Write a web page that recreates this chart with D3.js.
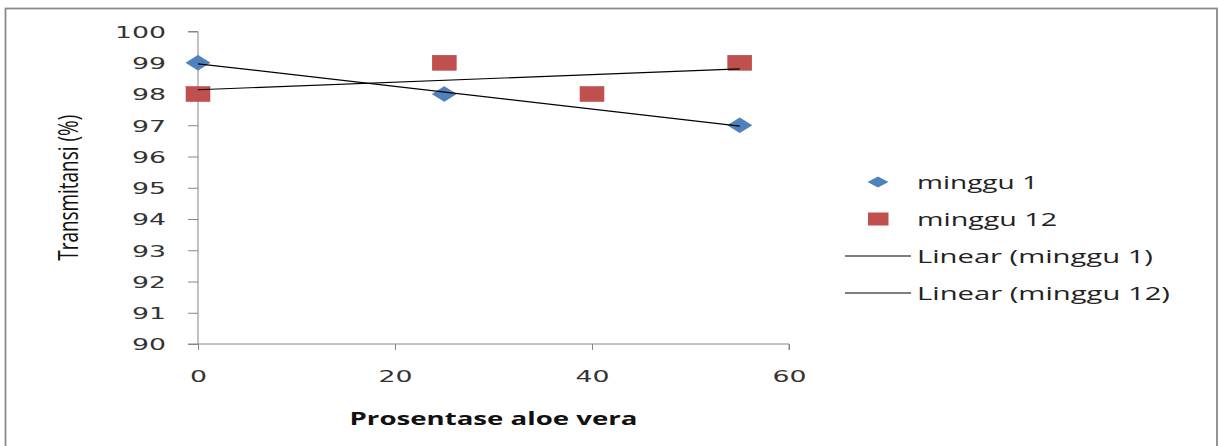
<!DOCTYPE html>
<html>
<head>
<meta charset="utf-8">
<script src="https://cdn.jsdelivr.net/npm/d3@7"></script>
<style>
  html, body { margin: 0; padding: 0; background: #fff; }
  svg { display: block; }
</style>
</head>
<body>
<svg id="chart" width="1220" height="446"></svg>
<script>
// ---- data ----
const xMinggu1 = [0, 25, 55];
const yMinggu1 = [99, 98, 97];
const xMinggu12 = [0, 25, 40, 55];
const yMinggu12 = [98, 99, 98, 99];
const yTickValues = [90, 91, 92, 93, 94, 95, 96, 97, 98, 99, 100];
const xTickValues = [0, 20, 40, 60];
const legendLabels = ["minggu 1", "minggu 12", "Linear (minggu 1)", "Linear (minggu 12)"];
const xTitle = "Prosentase aloe vera";
const yTitle = "Transmitansi (%)";

// ---- layout ----
const SX = 1.62; // horizontal stretch of the reference image
const svg = d3.select("#chart");
const x = d3.scaleLinear().domain([0, 60]).range([198, 789]);
const y = d3.scaleLinear().domain([90, 100]).range([344, 31.5]);
const blue = "#4F81BD", red = "#C0504D", axisCol = "#868686";

// frame
svg.append("rect").attr("x", 5.5).attr("y", 8.5).attr("width", 1211.5).attr("height", 460)
  .attr("fill", "#fff").attr("stroke", "#8a8a8a").attr("stroke-width", 1.8);

// y axis
const gy = svg.append("g").attr("transform", `translate(${x(0)},0)`)
  .call(d3.axisLeft(y).tickValues(yTickValues).tickSize(10).tickFormat(d3.format("d")));
gy.select(".domain").attr("stroke", axisCol).attr("d", `M-10,${y(100)}H0V${y(90)}`);
gy.selectAll(".tick line").attr("stroke", axisCol);
gy.selectAll(".tick text")
  .attr("x", 0).attr("dy", "0.36em")
  .attr("transform", `translate(-32,0) scale(${SX},1)`)
  .attr("font-family", "DejaVu Sans").attr("font-size", 16.5).attr("fill", "#333")
  .attr("text-anchor", "end");

// x axis
const gx = svg.append("g").attr("transform", `translate(0,${y(90)})`)
  .call(d3.axisBottom(x).tickValues(xTickValues).tickSize(6).tickFormat(d3.format("d")));
gx.select(".domain").attr("stroke", axisCol).attr("d", `M${x(0) - 10},0H${x(60)}V6`);
gx.selectAll(".tick line").attr("stroke", axisCol);
gx.selectAll(".tick text")
  .attr("y", 0).attr("dy", 0)
  .attr("transform", `translate(0,38) scale(${SX},1)`)
  .attr("font-family", "DejaVu Sans").attr("font-size", 16.5).attr("fill", "#333")
  .attr("text-anchor", "middle");

// axis titles
svg.append("text").text(xTitle)
  .attr("x", (x(0) + x(60)) / 2).attr("y", 425)
  .attr("text-anchor", "middle")
  .attr("font-family", "Open Sans").attr("font-weight", "bold").attr("font-size", 17)
  .attr("textLength", 288).attr("lengthAdjust", "spacingAndGlyphs").attr("fill", "#111");

svg.append("text").text(yTitle)
  .attr("transform", `translate(78,${(y(90) + y(100)) / 2}) scale(${SX},1) rotate(-90)`)
  .attr("text-anchor", "middle")
  .attr("font-family", "Open Sans").attr("font-size", 16.5)
  .attr("textLength", 146).attr("lengthAdjust", "spacingAndGlyphs").attr("fill", "#111");

// markers
const diamond = (cx, cy, w, h) => `M${cx},${cy - h / 2}L${cx + w / 2},${cy}L${cx},${cy + h / 2}L${cx - w / 2},${cy}Z`;
const pts1 = xMinggu1.map((v, i) => [v, yMinggu1[i]]);
const pts12 = xMinggu12.map((v, i) => [v, yMinggu12[i]]);

svg.append("g").selectAll("path").data(pts1).join("path")
  .attr("d", d => diamond(x(d[0]), y(d[1]), 24, 15))
  .attr("fill", blue).attr("stroke", "#3a6ea5").attr("stroke-width", 0.5);

svg.append("g").selectAll("rect").data(pts12).join("rect")
  .attr("x", d => x(d[0]) - 12).attr("y", d => y(d[1]) - 7.5)
  .attr("width", 24).attr("height", 15)
  .attr("fill", red).attr("stroke", "#b04440").attr("stroke-width", 0.5);

// linear trendlines (least squares)
function fit(pts) {
  const mx = d3.mean(pts, d => d[0]), my = d3.mean(pts, d => d[1]);
  const b = d3.sum(pts, d => (d[0] - mx) * (d[1] - my)) / d3.sum(pts, d => (d[0] - mx) ** 2);
  return v => my + b * (v - mx);
}
[pts1, pts12].forEach(pts => {
  const f = fit(pts);
  const [x0, x1] = d3.extent(pts, d => d[0]);
  svg.append("line")
    .attr("x1", x(x0)).attr("y1", y(f(x0)))
    .attr("x2", x(x1)).attr("y2", y(f(x1)))
    .attr("stroke", "#000").attr("stroke-width", 1.2);
});

// legend
const lg = svg.append("g");
const rowY = i => 182 + i * 37;
lg.append("path").attr("d", diamond(878, rowY(0), 21, 11)).attr("fill", blue);
lg.append("rect").attr("x", 868).attr("y", rowY(1) - 6.5).attr("width", 20.5).attr("height", 13).attr("fill", red);
lg.append("line").attr("x1", 845).attr("x2", 911).attr("y1", rowY(2)).attr("y2", rowY(2)).attr("stroke", "#000").attr("stroke-width", 1.2);
lg.append("line").attr("x1", 845).attr("x2", 911).attr("y1", rowY(3)).attr("y2", rowY(3)).attr("stroke", "#000").attr("stroke-width", 1.2);
const legendWidths = [121, 140, 236, 253];
lg.selectAll("text").data(legendLabels).join("text")
  .text(d => d)
  .attr("x", 917).attr("y", (d, i) => rowY(i) + 6.5)
  .attr("font-family", "Open Sans").attr("font-size", 18.5).attr("fill", "#222")
  .attr("textLength", (d, i) => legendWidths[i]).attr("lengthAdjust", "spacingAndGlyphs");
</script>
</body>
</html>
